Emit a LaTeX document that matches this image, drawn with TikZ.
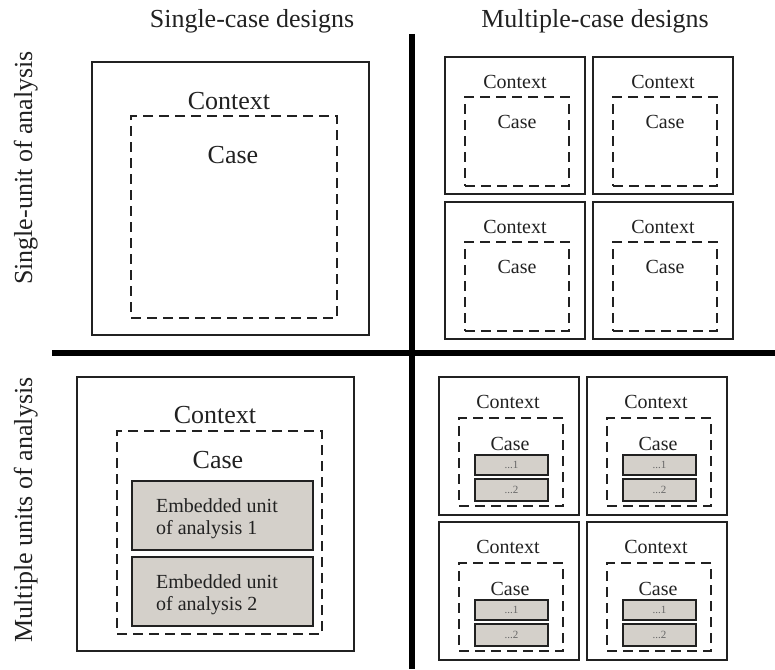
\documentclass[tikz,border=0pt]{standalone}
\usepackage{fontspec}
\setmainfont{Liberation Serif}
\definecolor{ink}{gray}{0.13}
\definecolor{unitgrey}{RGB}{212,208,202}
\tikzset{
  x=1pt, y=-1pt,
  ctxbox/.style={draw=ink, line width=2.2pt, inner sep=0pt, outer sep=0pt},
  casebox/.style={draw=ink, line width=2.2pt, dash pattern=on 10pt off 6pt, inner sep=0pt, outer sep=0pt},
  unitbox/.style={draw=ink, fill=unitgrey, line width=2.8pt, inner sep=0pt, outer sep=0pt,
                  font=\fontsize{11}{13}\selectfont, text=black!60},
  axisline/.style={draw=black, line width=6pt},
  bigtxt/.style={font=\fontsize{26}{30}\selectfont, text=ink, anchor=base, inner sep=0pt},
  midtxt/.style={font=\fontsize{20}{24}\selectfont, text=ink, anchor=base, inner sep=0pt},
}
% rectangle node from its corners: style, name, x1, y1, x2, y2, text
\newcommand\rbox[7]{%
  \node[#1, minimum width={((#5)-(#3))*1pt}, minimum height={((#6)-(#4))*1pt}]
    (#2) at ({((#3)+(#5))/2},{((#4)+(#6))/2}) {#7};}
% one small context/case/units cell of the lower right quadrant
\newcommand\unitcell[3]{% name, dx, dy
  \rbox{ctxbox}{#1ctx}{439+#2}{377+#3}{579+#2}{515+#3}{}
  \rbox{casebox}{#1case}{459+#2}{418+#3}{563+#2}{506+#3}{}
  \rbox{unitbox}{#1ua}{475+#2}{455+#3}{548+#2}{475+#3}{...1}
  \rbox{unitbox}{#1ub}{475+#2}{479+#3}{548+#2}{501+#3}{...2}
  \node[midtxt] (#1ctxlbl) at (508+#2,408+#3) {Context};
  \node[midtxt] (#1caselbl) at (510+#2,450+#3) {Case};}
% one small context/case cell of the upper right quadrant
\newcommand\casecell[3]{% name, dx, dy
  \rbox{ctxbox}{#1ctx}{445+#2}{57+#3}{585+#2}{194+#3}{}
  \rbox{casebox}{#1case}{465+#2}{97+#3}{569+#2}{186+#3}{}
  \node[midtxt] (#1ctxlbl) at (515+#2,88+#3) {Context};
  \node[midtxt] (#1caselbl) at (517+#2,128+#3) {Case};}
\begin{document}
\begin{tikzpicture}
\useasboundingbox (0,0) rectangle (775,669);

% axes
\coordinate (vtop) at (411.5,34);
\coordinate (vbot) at (411.5,669);
\coordinate (hleft) at (52,352.5);
\coordinate (hright) at (775,352.5);
\draw[axisline] (vtop) -- (vbot);
\draw[axisline] (hleft) -- (hright);

% headings
\node[bigtxt] (colA) at (252,28) {Single-case designs};
\node[bigtxt] (colB) at (595,28) {Multiple-case designs};
\node[bigtxt, rotate=90] (rowA) at (32,168) {Single-unit of analysis};
\node[bigtxt, rotate=90] (rowB) at (32,510) {Multiple units of analysis};

% single case, single unit
\rbox{ctxbox}{sctx}{92}{62}{369}{335}{}
\rbox{casebox}{scase}{131}{116}{337}{318}{}
\node[bigtxt] (sctxlbl) at (229,109) {Context};
\node[bigtxt] (scaselbl) at (233,163) {Case};

% multiple cases, single unit
\casecell{ma}{0}{0}
\casecell{mb}{148}{0}
\casecell{mc}{0}{145}
\casecell{md}{148}{145}

% single case, embedded units
\rbox{ctxbox}{ectx}{77}{377}{354}{651}{}
\rbox{casebox}{ecase}{117}{431}{322}{634}{}
\node[bigtxt] (ectxlbl) at (215,423) {Context};
\node[bigtxt] (ecaselbl) at (218,468) {Case};
\rbox{unitbox}{eua}{132}{481}{313}{550}{}
\rbox{unitbox}{eub}{132}{557}{313}{626}{}
\node[midtxt, anchor=base west] (eua1) at (156,512) {Embedded unit};
\node[midtxt, anchor=base west] (eua2) at (156,534) {of analysis 1};
\node[midtxt, anchor=base west] (eub1) at (156,588) {Embedded unit};
\node[midtxt, anchor=base west] (eub2) at (156,610) {of analysis 2};

% multiple cases, embedded units
\unitcell{na}{0}{0}
\unitcell{nb}{148}{0}
\unitcell{nc}{0}{145}
\unitcell{nd}{148}{145}
\end{tikzpicture}
\end{document}
